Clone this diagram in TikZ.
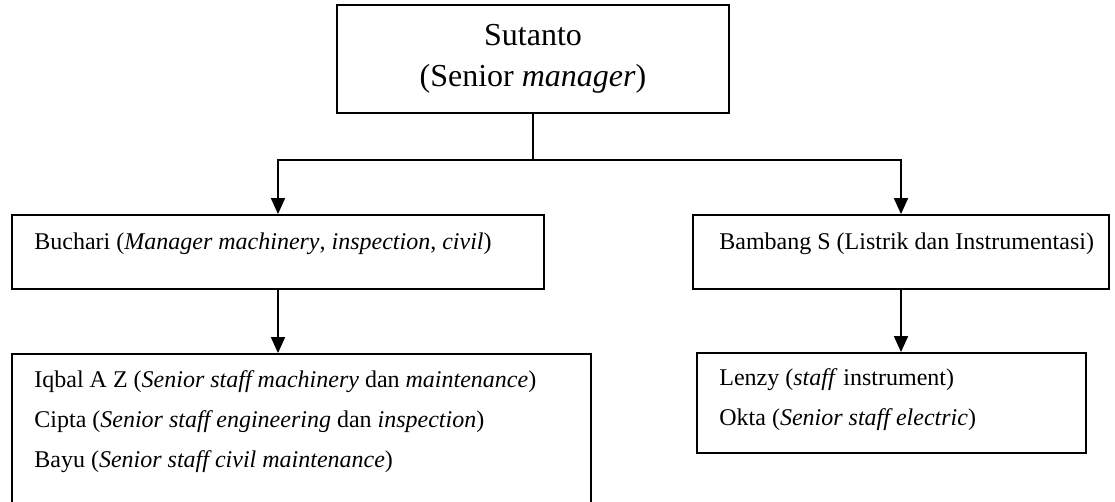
\documentclass[tikz,border=0pt]{standalone}
\usepackage{fontspec}
\setmainfont{Liberation Serif}
\usetikzlibrary{positioning, arrows.meta}

\begin{document}
\begin{tikzpicture}[x=0.5pt, y=-0.5pt,
  box/.style = {draw, line width=0.9pt, rectangle, inner sep=0pt},
  names/.style = {align=left, inner sep=0pt, font=\fontsize{12}{20}\selectfont},
  link/.style = {line width=0.9pt},
  arrow/.style = {link, -{Triangle[width=7pt, length=8pt]}}]
\useasboundingbox (0,0) rectangle (1115,502);

% boxes
\node[box, minimum width=196pt, minimum height=54pt, align=center, font=\fontsize{16}{20.5}\selectfont] (sutanto) at (533,59) {Sutanto\\(Senior \textit{manager})};
\node[box, minimum width=266pt, minimum height=37pt] (buchari) at (278,252) {};
\node[box, minimum width=208pt, minimum height=37pt] (bambang) at (901,252) {};
\node[box, minimum width=289.5pt, minimum height=78pt] (mesin) at (301.5,432) {};
\node[box, minimum width=194.5pt, minimum height=50pt] (listrik) at (891.5,403) {};

% texts
\node[names, anchor=base west] (buchari text) at (34,250) {Buchari (\textit{Manager machinery}, \textit{inspection}, \textit{civil})};
\node[names, anchor=base west] (bambang text) at (719,250) {Bambang S (Listrik dan Instrumentasi)};
\node[names, anchor=north west] (mesin text) at (34,370) {Iqbal A Z (\textit{Senior staff machinery} dan \textit{maintenance})\\
Cipta (\textit{Senior staff engineering} dan \textit{inspection})\\
Bayu (\textit{Senior staff civil maintenance})};
\node[names, anchor=north west] (listrik text) at (719,368) {Lenzy (\textit{staff} instrument)\\
Okta (\textit{Senior staff electric})};

% connectors
\coordinate (fork) at (533,160);
\draw[link] (sutanto) -- (fork);
\draw[arrow] (fork) -| (buchari);
\draw[arrow] (fork) -| (bambang);
\draw[arrow] (buchari) -- (mesin.north -| buchari);
\draw[arrow] (bambang) -- (listrik.north -| bambang);
\end{tikzpicture}
\end{document}
